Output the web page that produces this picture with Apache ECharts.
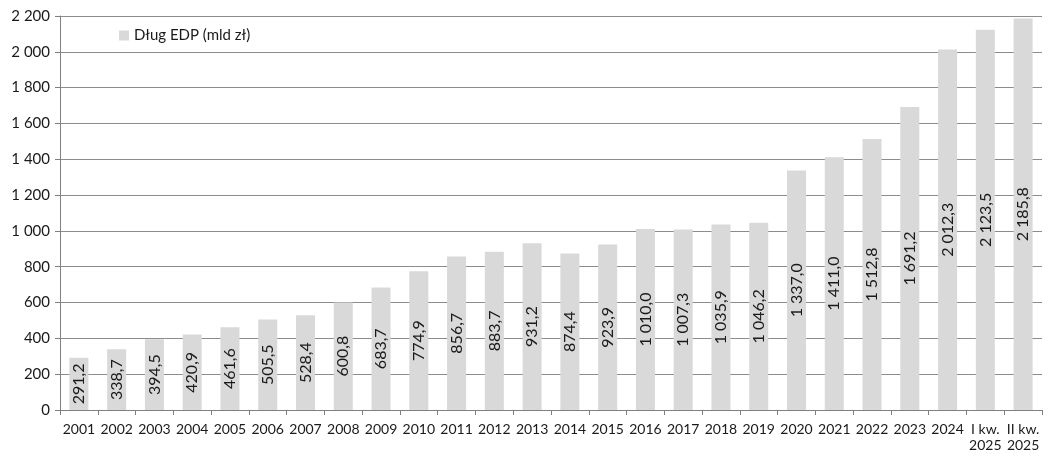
<!DOCTYPE html>
<html><head><meta charset="utf-8">
<script src="https://cdn.jsdelivr.net/npm/echarts@6/dist/echarts.min.js"></script>
<style>html,body{margin:0;padding:0;background:#fff}#c{width:1055px;height:463px}</style>
</head><body><div id="c"></div>
<script>
const categories = ['2001','2002','2003','2004','2005','2006','2007','2008','2009','2010','2011','2012','2013','2014','2015','2016','2017','2018','2019','2020','2021','2022','2023','2024','I kw.\n2025','II kw.\n2025'];
const debtValues = [291.2,338.7,394.5,420.9,461.6,505.5,528.4,600.8,683.7,774.9,856.7,883.7,931.2,874.4,923.9,1010.0,1007.3,1035.9,1046.2,1337.0,1411.0,1512.8,1691.2,2012.3,2123.5,2185.8];
const seriesName = 'Dług EDP (mld zł)';

function fmt(v, dec) {
  const s = v.toFixed(dec);
  let [i, d] = s.split('.');
  i = i.replace(/\B(?=(\d{3})+(?!\d))/g, ' ');
  return d ? i + ',' + d : i;
}

const chart = echarts.init(document.getElementById('c'));
chart.setOption({
  animation: false,
  textStyle: { fontFamily: 'Lato' },
  legend: {
    left: 114, top: 23, itemWidth: 10, itemHeight: 10, itemGap: 5,
    icon: 'rect',
    textStyle: { fontFamily: 'Lato', fontSize: 15, color: '#1a1a1a' },
    data: [seriesName]
  },
  grid: { left: 60, right: 13, top: 16, bottom: 53, containLabel: false },
  xAxis: {
    type: 'category', data: categories,
    axisLine: { lineStyle: { color: '#808080' } },
    axisTick: { show: true, length: 5, alignWithLabel: false, lineStyle: { color: '#808080' } },
    axisLabel: { interval: 0, color: '#1a1a1a', fontSize: 14, fontFamily: 'Lato', margin: 11, lineHeight: 16 }
  },
  yAxis: {
    type: 'value', min: 0, max: 2200, interval: 200,
    axisLine: { show: true, lineStyle: { color: '#808080' } },
    axisTick: { show: true, length: 5, lineStyle: { color: '#808080' } },
    splitLine: { lineStyle: { color: '#8c8c8c' } },
    axisLabel: { color: '#1a1a1a', fontSize: 15, fontFamily: 'Lato', margin: 10, formatter: v => fmt(v, 0) }
  },
  series: [{
    name: seriesName, type: 'bar', data: debtValues, barWidth: 19,
    itemStyle: { color: '#d9d9d9' },
    label: {
      show: true, position: 'inside', rotate: 90, color: '#1a1a1a',
      fontSize: 16, fontFamily: 'Lato', formatter: p => fmt(p.value, 1)
    }
  }]
});
</script></body></html>
